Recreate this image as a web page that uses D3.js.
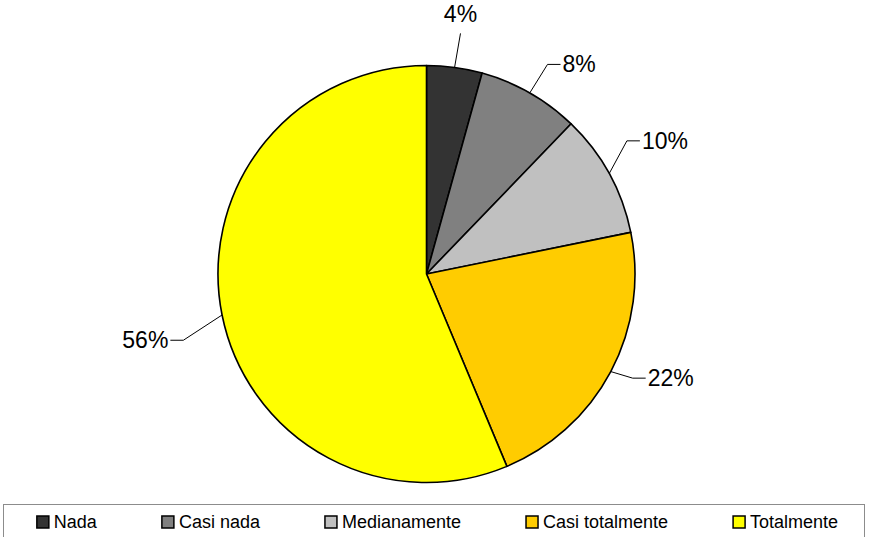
<!DOCTYPE html>
<html>
<head>
<meta charset="utf-8">
<script src="https://cdn.jsdelivr.net/npm/d3@7"></script>
<style>
  html, body { margin: 0; padding: 0; background: #fff; }
  svg { display: block; }
  text { font-family: "Liberation Sans", Arial, sans-serif; fill: #000; }
</style>
</head>
<body>
<svg id="chart" width="870" height="537"></svg>
<script>
// ---- data ----
const categories = ["Nada", "Casi nada", "Medianamente", "Casi totalmente", "Totalmente"];
const values = [4.3, 7.9, 9.6, 21.9, 56.3];
const colors = ["#333333", "#808080", "#C0C0C0", "#FFCC00", "#FFFF00"];

// ---- layout ----
const W = 870, H = 537;
const cx = 426.5, cy = 274, R = 208.5;
// leader-line elbow geometry (angle shift in degrees, elbow radius) per slice
const elbowLayout = [
  { dAng: 0.3, r: 243 },
  { dAng: 0.3, r: 242 },
  { dAng: -4.8, r: 240.6 },
  { dAng: -1.1, r: 231 },
  { dAng: -3.9, r: 252 }
];

const svg = d3.select("#chart");
const g = svg.append("g").attr("transform", `translate(${cx},${cy})`);

const pie = d3.pie().sort(null).value(d => d.v);
const data = categories.map((c, i) => ({ c, v: values[i], col: colors[i] }));
const arcs = pie(data);
const total = d3.sum(values);
const arc = d3.arc().innerRadius(0).outerRadius(R);

g.selectAll("path.slice").data(arcs).enter().append("path")
  .attr("class", "slice")
  .attr("d", arc)
  .attr("fill", d => d.data.col)
  .attr("stroke", "#000")
  .attr("stroke-width", 1.6)
  .attr("stroke-linejoin", "round");

const pt = (ang, r) => [r * Math.sin(ang), -r * Math.cos(ang)];

arcs.forEach((a, i) => {
  const mid = (a.startAngle + a.endAngle) / 2;
  const lay = elbowLayout[i];
  const p0 = pt(mid, R);
  const p1 = pt(mid + lay.dAng * Math.PI / 180, lay.r);
  const label = Math.round(a.data.v / total * 100) + "%";
  if (Math.abs(Math.sin(mid)) < 0.2) {
    g.append("polyline")
      .attr("points", [p0, p1].map(p => p.join(",")).join(" "))
      .attr("fill", "none").attr("stroke", "#000").attr("stroke-width", 1);
    g.append("text")
      .attr("x", p1[0]).attr("y", p1[1] - 11)
      .attr("text-anchor", "middle")
      .attr("font-size", 23)
      .text(label);
  } else {
    const side = p1[0] >= 0 ? 1 : -1;
    const p2 = [p1[0] + side * 13, p1[1]];
    g.append("polyline")
      .attr("points", [p0, p1, p2].map(p => p.join(",")).join(" "))
      .attr("fill", "none").attr("stroke", "#000").attr("stroke-width", 1);
    g.append("text")
      .attr("x", p2[0] + side * 2).attr("y", p2[1] + 8)
      .attr("text-anchor", side > 0 ? "start" : "end")
      .attr("font-size", 23)
      .text(label);
  }
});

// ---- legend ----
const legend = svg.append("g");
legend.append("rect")
  .attr("x", 3.5).attr("y", 504.5).attr("width", 861).attr("height", 40)
  .attr("fill", "#fff").attr("stroke", "#8c8c8c").attr("stroke-width", 1);

const items = legend.selectAll("g.item").data(data).enter().append("g").attr("class", "item");
items.append("rect")
  .attr("width", 12).attr("height", 12).attr("y", 516)
  .attr("fill", d => d.col).attr("stroke", "#000").attr("stroke-width", 1.5);
items.append("text")
  .attr("x", 17).attr("y", 528)
  .attr("font-size", 18)
  .text(d => d.c);

const widths = [];
items.each(function () { widths.push(17 + d3.select(this).select("text").node().getComputedTextLength()); });
const gap = 65;
const totalW = d3.sum(widths) + gap * (widths.length - 1);
let x = 437.5 - totalW / 2;
items.each(function (d, i) {
  d3.select(this).attr("transform", `translate(${x},0)`);
  x += widths[i] + gap;
});
</script>
</body>
</html>
